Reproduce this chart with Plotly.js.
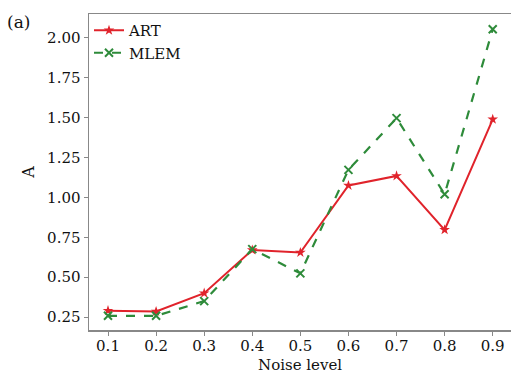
<!DOCTYPE html>
<html><head><meta charset="utf-8">
<script src="https://cdn.plot.ly/plotly-3.0.1.min.js"></script>
<style>html,body{margin:0;padding:0;background:#fff}#chart{width:511px;height:374px}</style>
</head><body><div id="chart"></div>
<script>
const noiseLevels = [0.1, 0.2, 0.3, 0.4, 0.5, 0.6, 0.7, 0.8, 0.9];
const artValues = [0.29, 0.285, 0.40, 0.67, 0.655, 1.075, 1.135, 0.797, 1.49];
const mlemValues = [0.258, 0.258, 0.35, 0.676, 0.524, 1.173, 1.497, 1.02, 2.054];
const yTickVals = [0.25, 0.50, 0.75, 1.00, 1.25, 1.50, 1.75, 2.00];
const yTickText = ["0.25", "0.50", "0.75", "1.00", "1.25", "1.50", "1.75", "2.00"];

const font = "DejaVu Serif, Liberation Serif, serif";
const traces = [
  {x: noiseLevels, y: artValues, name: "ART", mode: "lines+markers",
   line: {color: "#e0232b", width: 2},
   marker: {symbol: "star", size: 8, color: "#e0232b"}},
  {x: noiseLevels, y: mlemValues, name: "MLEM", mode: "lines+markers",
   line: {color: "#2e8b3a", width: 2.2, dash: "dash"},
   marker: {symbol: "x-thin", size: 8, color: "#2e8b3a", line: {color: "#2e8b3a", width: 2}}}
];
const layout = {
  width: 511, height: 374,
  margin: {l: 89, r: 0, t: 14, b: 44},
  paper_bgcolor: "#fff", plot_bgcolor: "#fff",
  font: {family: font, size: 15, color: "#111"},
  showlegend: true,
  legend: {x: 0.0, y: 1.0, xanchor: "left", yanchor: "top", bgcolor: "rgba(0,0,0,0)",
           font: {family: font, size: 15, color: "#111"}, tracegroupgap: 0, itemwidth: 30},
  xaxis: {range: [0.0605, 0.938], tickvals: noiseLevels, ticktext: noiseLevels.map(v => v.toFixed(1)),
          showgrid: false, zeroline: false, showline: true, linecolor: "#888", linewidth: 1.5,
          mirror: true, ticks: "outside", ticklen: 4, tickcolor: "#888", ticklabelstandoff: -3,
          tickfont: {family: font, size: 15, color: "#111"}},
  yaxis: {range: [0.169, 2.15], tickvals: yTickVals, ticktext: yTickText,
          showgrid: false, zeroline: false, showline: true, linecolor: "#888", linewidth: 1.5,
          ticks: "outside", ticklen: 4, tickcolor: "#888",
          tickfont: {family: font, size: 15, color: "#111"},
          title: {text: "A", font: {family: font, size: 16, color: "#111"}, standoff: 8}},
  annotations: [
    {text: "(a)", xref: "paper", yref: "paper", x: -0.2, y: 0.975, xanchor: "left", yanchor: "middle",
     showarrow: false, font: {family: font, size: 17, color: "#111"}},
    {text: "Noise level", xref: "paper", yref: "paper", x: 0.5, y: -0.078, xanchor: "center", yanchor: "top",
     showarrow: false, borderpad: 0, font: {family: font, size: 15, color: "#111"}}
  ]
};
Plotly.newPlot("chart", traces, layout, {displayModeBar: false, staticPlot: true});
</script></body></html>
